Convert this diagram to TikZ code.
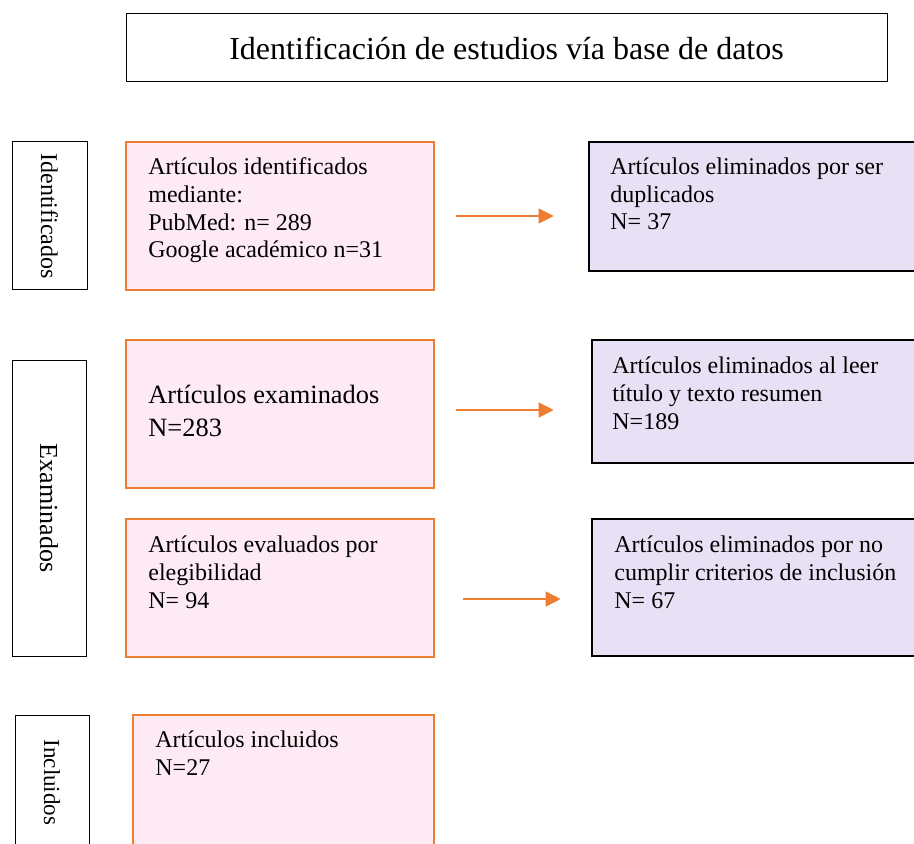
\documentclass[tikz,border=0pt]{standalone}
\usepackage{fontspec}
\setmainfont{Liberation Serif}
\usepackage{xcolor}
\usepackage{tikz}
\usetikzlibrary{positioning,arrows.meta}
\definecolor{boxorange}{HTML}{ED7D31}
\definecolor{boxpink}{HTML}{FDEAF4}
\definecolor{boxlilac}{HTML}{E8E1F5}
\begin{document}
\begin{tikzpicture}[x=0.5pt, y=-0.5pt, inner sep=0pt,
  stage/.style={draw=black, line width=0.5pt, fill=white, rotate=-90},
  pinkbox/.style={draw=boxorange, line width=1.3pt, fill=boxpink},
  lilacbox/.style={draw=black, line width=1.3pt, fill=boxlilac},
  boxtext/.style={anchor=base west, align=left, font=\fontsize{12pt}{13.85pt}\selectfont},
  arr/.style={draw=boxorange, line width=0.6pt, -{Triangle[length=7.5pt,width=7.5pt]}}]
  \useasboundingbox (0,0) rectangle (914,844);
  \node[draw=black, line width=0.5pt, minimum width=380.5pt, minimum height=34pt, font=\fontsize{16pt}{19pt}\selectfont] (title) at (506.5,48) {Identificación de estudios vía base de datos};
  \node[stage, minimum width=74pt, minimum height=37.5pt, font=\fontsize{12pt}{14pt}\selectfont] (ident) at (49.5,216) {Identificados};
  \node[stage, minimum width=148pt, minimum height=37pt, font=\fontsize{13pt}{15pt}\selectfont] (exam) at (49,508) {Examinados};
  \node[stage, minimum width=67.5pt, minimum height=37pt, font=\fontsize{11.5pt}{14pt}\selectfont] (incl) at (52,782.5) {Incluidos};
  \node[pinkbox, minimum width=154pt, minimum height=74pt] (found) at (280,216) {};
  \node[pinkbox, minimum width=154pt, minimum height=74pt] (screened) at (280,414) {};
  \node[pinkbox, minimum width=154pt, minimum height=69pt] (eligible) at (280,588) {};
  \node[pinkbox, minimum width=150.5pt, minimum height=75pt] (included) at (283.5,790) {};
  \node[lilacbox, minimum width=165.5pt, minimum height=64.5pt] (dupl) at (754.5,206.5) {};
  \node[lilacbox, minimum width=164pt, minimum height=61.5pt] (title-out) at (756,401.5) {};
  \node[lilacbox, minimum width=164pt, minimum height=68.5pt] (crit-out) at (756,587.5) {};
  \node[boxtext] (found-t) at (148,258) {Artículos identificados\\mediante:\\PubMed: n= 289\\Google académico n=31};
  \node[boxtext, font=\fontsize{13.2pt}{16.5pt}\selectfont] (screened-t) at (148,436) {Artículos examinados\\N=283};
  \node[boxtext] (eligible-t) at (148,608) {Artículos evaluados por\\elegibilidad\\N= 94};
  \node[boxtext] (included-t) at (155,775) {Artículos incluidos\\N=27};
  \node[boxtext] (dupl-t) at (610,230) {Artículos eliminados por ser\\duplicados\\N= 37};
  \node[boxtext] (title-out-t) at (612,429) {Artículos eliminados al leer\\título y texto resumen\\N=189};
  \node[boxtext] (crit-out-t) at (614,608) {Artículos eliminados por no\\cumplir criterios de inclusión\\N= 67};
  \draw[arr, shorten <=10.5pt, shorten >=17pt] (found.east) -- (found.east -| dupl.west);
  \draw[arr, shorten <=10.5pt, shorten >=18.5pt] ([yshift=2pt]screened.east) -- ([yshift=2pt]screened.east -| title-out.west);
  \draw[arr, shorten <=14pt, shorten >=15pt] ([yshift=-5.5pt]eligible.east) -- ([yshift=-5.5pt]eligible.east -| crit-out.west);
\end{tikzpicture}
\end{document}
